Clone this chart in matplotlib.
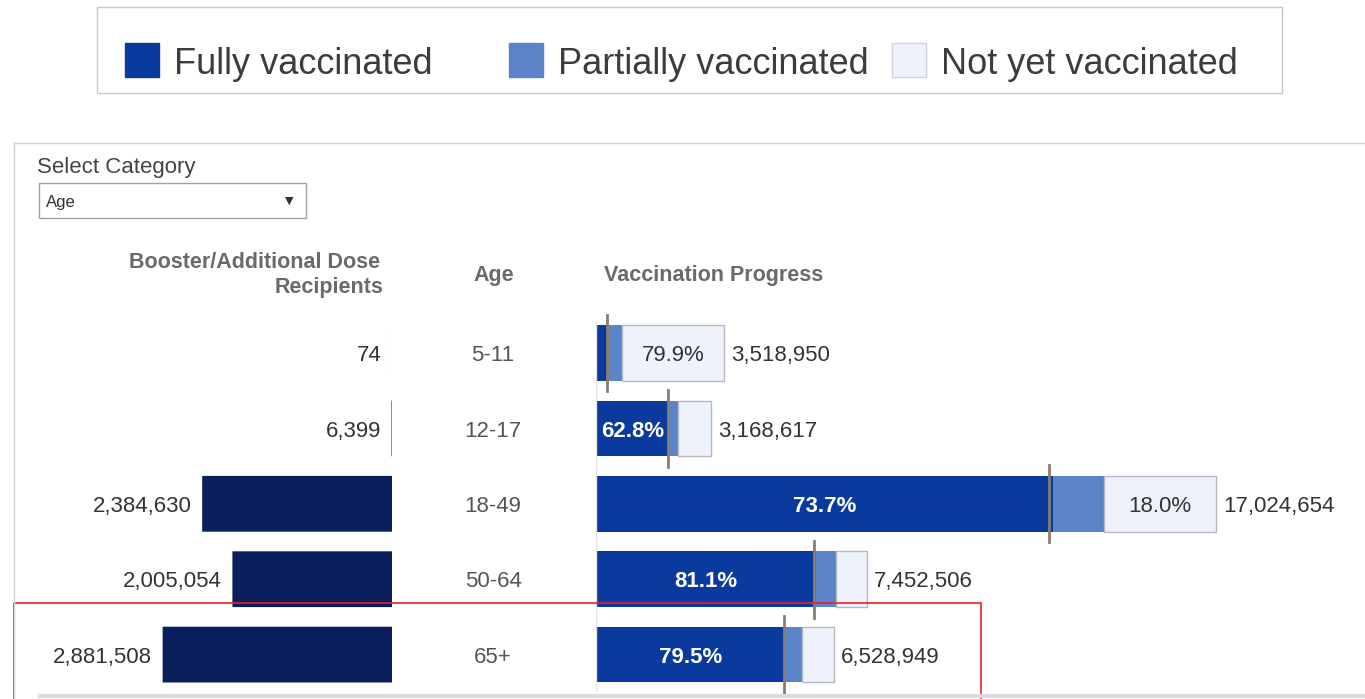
import matplotlib
matplotlib.use('Agg')
import matplotlib.pyplot as plt
import matplotlib.patches as patches
import matplotlib.transforms as transforms
from matplotlib.lines import Line2D

plt.rcParams['font.family'] = ['Liberation Sans', 'DejaVu Sans']

# Daten
ages = ['5-11', '12-17', '18-49', '50-64', '65+']
booster = [74, 6399, 2384630, 2005054, 2881508]
population = [3518950, 3168617, 17024654, 7452506, 6528949]
fully_pct = [8.4, 62.8, 73.7, 81.1, 79.5]
partial_pct = [11.7, 8.0, 8.3, 7.4, 7.3]
not_yet_pct = [79.9, 29.2, 18.0, 11.5, 13.2]
marker_pct = [8.7, 62.3, 73.0, 80.4, 79.2]

legend_labels = ['Fully vaccinated', 'Partially vaccinated', 'Not yet vaccinated']

# Farben
c_full = '#0b3a9e'
c_part = '#5a84c7'
c_not = '#eef2fa'
c_boost = '#0b1f5c'
c_marker = '#8c7c6c'

W, H = 1365, 699
fig = plt.figure(figsize=(W / 100, H / 100), dpi=100)


def fx(x):
    return x / W


def fy(y):
    return 1 - y / H


def box(x0, y0, x1, y1):
    return [fx(x0), fy(y1), fx(x1) - fx(x0), fy(y0) - fy(y1)]


# Legende oben
fig.patches.append(patches.Rectangle((fx(97), fy(93)), fx(1282) - fx(97), fy(7) - fy(93),
                                     transform=fig.transFigure, fill=False,
                                     edgecolor='#c8c8c8', lw=1))
leg_sq = [125, 509, 892]
leg_col = [c_full, c_part, c_not]
for x, col, lab in zip(leg_sq, leg_col, legend_labels):
    fig.patches.append(patches.Rectangle((fx(x), fy(77)), fx(34), fy(43) - fy(77),
                                         transform=fig.transFigure, facecolor=col,
                                         edgecolor='#d0d4de' if col == c_not else col, lw=1))
    fig.text(fx(x + 49), fy(64), lab, fontsize=26, color='#3c3c3c', va='center', ha='left')

# Panel-Rahmen
fig.add_artist(Line2D([fx(14), 1], [fy(143), fy(143)], color='#d4d4d4', lw=1))
fig.add_artist(Line2D([fx(14), fx(14)], [fy(143), 0], color='#d4d4d4', lw=1))
fig.add_artist(Line2D([fx(40), 1], [fy(696), fy(696)], color='#d8dde2', lw=3))

# Auswahlfeld
fig.text(fx(37), fy(167), 'Select Category', fontsize=16, color='#444444', va='center')
fig.patches.append(patches.Rectangle((fx(39), fy(218)), fx(306) - fx(39), fy(183) - fy(218),
                                     transform=fig.transFigure, facecolor='white',
                                     edgecolor='#a0a0a0', lw=1))
fig.text(fx(46), fy(202), 'Age', fontsize=12, color='#333333', va='center')
fig.text(fx(289), fy(201), '▼', fontsize=8, color='#333333', va='center', ha='center',
         family=['DejaVu Sans'])

# Spaltenkoepfe
hdr = dict(fontsize=15.5, fontweight='bold', color='#6a6a6a', va='center')
fig.text(fx(380), fy(263), 'Booster/Additional Dose', ha='right', **hdr)
fig.text(fx(383), fy(288), 'Recipients', ha='right', **hdr)
fig.text(fx(494), fy(275), 'Age', ha='center', **hdr)
fig.text(fx(604), fy(275), 'Vaccination Progress', ha='left', **hdr)

row_top, row_bot = 315.3, 692.3
rows = list(range(len(ages)))
bar_h = 0.74
dy = -2  # Textversatz nach unten (Punkte)

# Booster-Balken (links, nach links wachsend)
px_per_boost = 79.6 / 1e6
axL = fig.add_axes(box(14, row_top, 392, row_bot))
axL.set_xlim((392 - 14) / px_per_boost, 0)
axL.set_ylim(len(ages) - 0.5, -0.5)
axL.barh(rows, booster, height=bar_h, color=c_boost, snap=False, lw=0)
for i, v in enumerate(booster):
    axL.annotate(f'{v:,}', (v, i), xytext=(-7.5, dy), textcoords='offset points',
                 ha='right', va='center', fontsize=16, color='#333333')
axL.axis('off')

# Altersgruppen
trans = transforms.blended_transform_factory(fig.transFigure, axL.transData)
for i, a in enumerate(ages):
    axL.annotate(a, (fx(493), i), xycoords=trans, xytext=(0, dy),
                 textcoords='offset points', ha='center', va='center',
                 fontsize=16, color='#555555')

# Impffortschritt (rechts)
px_per_pop = 620 / population[2]
axR = fig.add_axes(box(596, row_top, W, row_bot))
axR.set_xlim(0, (W - 596) / px_per_pop)
axR.set_ylim(len(ages) - 0.5, -0.5)
full_w = [p * f / 100 for p, f in zip(population, fully_pct)]
part_w = [p * f / 100 for p, f in zip(population, partial_pct)]
not_w = [p * f / 100 for p, f in zip(population, not_yet_pct)]
part_left = full_w
not_left = [a + b for a, b in zip(full_w, part_w)]
axR.barh(rows, full_w, height=bar_h, color=c_full)
axR.barh(rows, part_w, left=part_left, height=bar_h, color=c_part)
axR.barh(rows, not_w, left=not_left, height=bar_h, color=c_not,
         edgecolor='#b4b8c0', lw=1)
axR.axvline(0, color='#e2e2e2', lw=1, ymax=0.985)

min_label = 60 / px_per_pop
for i in rows:
    if full_w[i] > min_label:
        axR.annotate(f'{fully_pct[i]:.1f}%', (full_w[i] / 2, i), xytext=(0, dy),
                     textcoords='offset points', ha='center', va='center',
                     fontsize=16, color='white', fontweight='bold')
    if not_w[i] > min_label:
        axR.annotate(f'{not_yet_pct[i]:.1f}%', (not_left[i] + not_w[i] / 2, i),
                     xytext=(0, dy), textcoords='offset points', ha='center',
                     va='center', fontsize=16, color='#333333')
    axR.annotate(f'{population[i]:,}', (population[i], i), xytext=(5, dy),
                 textcoords='offset points', ha='left', va='center', fontsize=16,
                 color='#333333')
    m = population[i] * marker_pct[i] / 100
    axR.plot([m, m], [i - 0.51, i + 0.51], color=c_marker, lw=2, clip_on=False)
axR.axis('off')

# Markierung der letzten Zeile
fig.patches.append(patches.Rectangle((fx(14), -0.02), fx(981) - fx(14), fy(603) + 0.02,
                                     transform=fig.transFigure, fill=False,
                                     edgecolor='#e8202a', lw=1.2))

fig.savefig('out.png', dpi=100)
